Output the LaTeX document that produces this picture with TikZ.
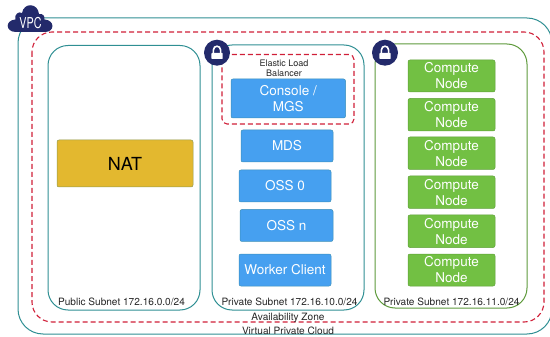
\documentclass[tikz,border=0pt]{standalone}
\usepackage{fontspec}
\setmainfont{TeX Gyre Heros}
\definecolor{tealline}{HTML}{2F8F93}
\definecolor{greenline}{HTML}{5E9A3C}
\definecolor{reddash}{HTML}{D01F38}
\definecolor{navy}{HTML}{232A6B}
\definecolor{bluebox}{HTML}{46A0F0}
\definecolor{blueedge}{HTML}{3C8FB8}
\definecolor{greenbox}{HTML}{72C043}
\definecolor{greenedge}{HTML}{5FA03A}
\definecolor{natbox}{HTML}{E3B82F}
\definecolor{natedge}{HTML}{8F9A50}
\tikzset{
  x=1pt,y=-1pt,
  areabox/.style={draw=tealline,line width=1pt,rounded corners=20pt},
  zonebox/.style={draw=reddash,line width=1.1pt,dash pattern=on 5pt off 3pt},
  bluenode/.style={draw=blueedge,line width=0.5pt,fill=bluebox,rounded corners=2pt,text=white,align=center,font=\fontsize{13.5}{16}\selectfont},
  greennode/.style={draw=greenedge,line width=0.5pt,fill=greenbox,rounded corners=2pt,text=white,align=center,font=\fontsize{13.5}{16}\selectfont},
  caption/.style={font=\fontsize{10.1}{11}\selectfont,text=black!85,inner sep=0pt},
}
\begin{document}
\begin{tikzpicture}
\useasboundingbox (0,0) rectangle (550,337);
\begin{scope}
\clip (0,0) rectangle (550,337);
\path[areabox,rounded corners=25pt] (18,18) rectangle (552,334) node[midway] (vpcbox) {};
\end{scope}
\path[zonebox,rounded corners=20pt] (32,32) rectangle (544,322) node[midway] (zonearea) {};
\path[areabox] (48,45.5) rectangle (200,310) node[midway] (pubnet) {};
\path[areabox] (212,45) rectangle (364,310) node[midway] (privneta) {};
\path[areabox,draw=greenline] (375,44) rectangle (527,308) node[midway] (privnetb) {};
\path[zonebox,rounded corners=5pt] (222,54.5) rectangle (354,124) node[midway] (elbarea) {};
% NAT
\path[draw=natedge,line width=0.5pt,fill=natbox,rounded corners=2pt] (57,140) rectangle (193,187) node[midway,text=black,font=\fontsize{18}{22}\selectfont] (nat) {NAT};
% blue
\path[bluenode] (231,79) rectangle (345.5,118) node[midway,bluenode,draw=none,fill=none] (console) {Console /\\MGS};
\path[bluenode] (241,130) rectangle (333,162) node[midway,bluenode,draw=none,fill=none] (mds) {MDS};
\path[bluenode] (239,170) rectangle (331,202) node[midway,bluenode,draw=none,fill=none] (ossz) {OSS 0};
\path[bluenode] (240,209.5) rectangle (333,241.5) node[midway,bluenode,draw=none,fill=none] (ossn) {OSS n};
\path[bluenode] (239,254) rectangle (331,286) node[midway,bluenode,draw=none,fill=none] (worker) {Worker Client};
% green
\path[greennode] (408,60) rectangle (495,92) node[midway,greennode,draw=none,fill=none] (cna) {Compute\\Node};
\path[greennode] (408,98.5) rectangle (495,131) node[midway,greennode,draw=none,fill=none] (cnb) {Compute\\Node};
\path[greennode] (408,137) rectangle (495,169.5) node[midway,greennode,draw=none,fill=none] (cnc) {Compute\\Node};
\path[greennode] (408,176) rectangle (495,208.5) node[midway,greennode,draw=none,fill=none] (cnd) {Compute\\Node};
\path[greennode] (408,215) rectangle (495,247.5) node[midway,greennode,draw=none,fill=none] (cne) {Compute\\Node};
\path[greennode] (408,254) rectangle (495,286) node[midway,greennode,draw=none,fill=none] (cnf) {Compute\\Node};
% captions
\node[caption,align=center,font=\fontsize{9}{10}\selectfont] (elblabel) at (284,68) {Elastic Load\\Balancer};
\node[caption] (publabel) at (121.5,301.5) {Public Subnet 172.16.0.0/24};
\node[caption] (privalabel) at (289.5,302) {Private Subnet 172.16.10.0/24};
\node[caption] (privblabel) at (451.5,302) {Private Subnet 172.16.11.0/24};
\node[caption] (zonelabel) at (288,318) {Availability Zone};
\node[caption] (vpclabel) at (288,330.5) {Virtual Private Cloud};
% cloud
\fill[navy] (16,32) .. controls (5,32) and (5,20) .. (15.5,19.5)
  .. controls (14,14) and (19,11) .. (22,13)
  .. controls (24,2) and (38,3) .. (39,14)
  .. controls (43,13.5) and (45,16) .. (44.5,19.5)
  .. controls (55,20) and (55,32) .. (45,32) -- cycle;
\node[text=white,font=\fontsize{15}{16}\selectfont,inner sep=0pt,xscale=0.72] (vpctag) at (30.5,23) {VPC};
% locks
\foreach \nm/\cx in {locka/217,lockb/385}{
  \node[circle,fill=navy,minimum size=26pt,inner sep=0pt] (\nm) at (\cx,52.7) {};
  \fill[white,rounded corners=0.7pt] (\cx-5.7,53) rectangle (\cx+5.7,59);
  \draw[white,line width=1.6pt] (\cx-3.6,53.5) -- (\cx-3.6,50) .. controls (\cx-3.6,45) and (\cx+3.6,45) .. (\cx+3.6,50) -- (\cx+3.6,53.5);
}
\end{tikzpicture}
\end{document}
